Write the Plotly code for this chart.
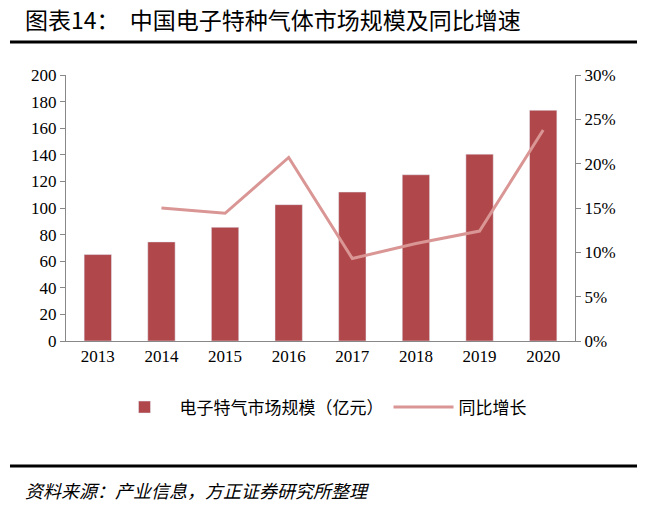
import plotly.graph_objects as go

years = ["2013","2014","2015","2016","2017","2018","2019","2020"]
market = [65, 74.5, 85.5, 102.5, 112, 125, 140.5, 173.5]
growth_years = ["2014","2015","2016","2017","2018","2019","2020"]
growth = [15.0, 14.4, 20.7, 9.3, 11.0, 12.4, 23.8]

serif = "Liberation Serif, Times New Roman, serif"
cjk = "Noto Sans CJK SC"

fig = go.Figure()
fig.add_trace(go.Bar(x=years, y=market, name="电子特气市场规模（亿元）",
                     marker_color="#B0474A", width=0.43))
fig.add_trace(go.Scatter(x=growth_years, y=growth, name="同比增长", yaxis="y2",
                         mode="lines", line=dict(color="#D99694", width=3)))

fig.update_layout(
    width=645, height=508, paper_bgcolor="white", plot_bgcolor="white",
    margin=dict(l=58, r=78, t=67, b=175),
    showlegend=True,
    legend=dict(orientation="h", x=0.5, xanchor="center", y=-0.25, yanchor="middle",
                font=dict(family=cjk, size=17, color="#000"), itemwidth=60),
    xaxis=dict(showline=True, linecolor="#888", ticks="", tickfont=dict(family=serif, size=17, color="#000")),
    yaxis=dict(range=[0,200], dtick=20, showgrid=False, showline=True, linecolor="#888",
               ticks="outside", ticklen=5, tickcolor="#888",
               tickfont=dict(family=serif, size=17, color="#000")),
    yaxis2=dict(range=[0,30], dtick=5, overlaying="y", side="right", showgrid=False,
                showline=True, linecolor="#888", ticks="outside", ticklen=5, tickcolor="#888",
                ticksuffix="%", tickfont=dict(family=serif, size=17, color="#000")),
    bargap=0.5,
)
fig.add_shape(type="line", xref="paper", yref="paper", x0=-0.11, x1=1.16, y0=1.124, y1=1.124,
              line=dict(color="#000", width=3))
fig.add_shape(type="line", xref="paper", yref="paper", x0=-0.11, x1=1.16, y0=-0.47, y1=-0.47,
              line=dict(color="#000", width=3))
fig.add_annotation(xref="paper", yref="paper", x=-0.084, y=1.21, xanchor="left", yanchor="middle",
                   text="图表14：  中国电子特种气体市场规模及同比增速", showarrow=False,
                   font=dict(family=cjk, size=23, color="#000"))
fig.add_annotation(xref="paper", yref="paper", x=-0.084, y=-0.56, xanchor="left", yanchor="middle",
                   text="<i>资料来源：产业信息，方正证券研究所整理</i>", showarrow=False,
                   font=dict(family=cjk, size=18, color="#000"))
fig.write_html("out.html")
